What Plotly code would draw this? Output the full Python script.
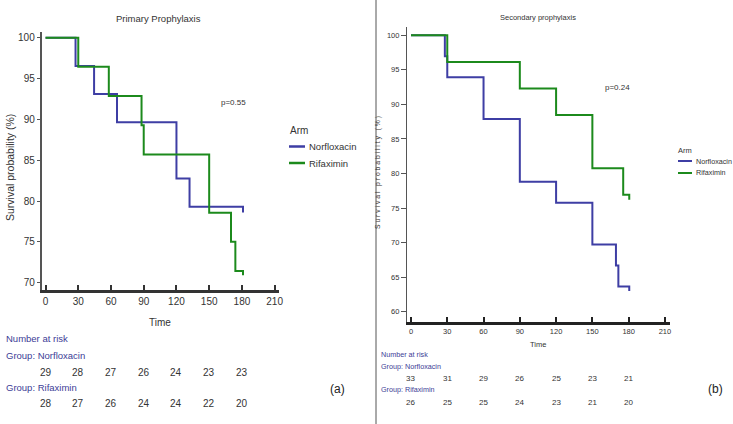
import plotly.graph_objects as go

W, H = 733, 424

# ---------------- data ----------------
# Panel (a) Primary prophylaxis
a_norf_t = [0, 27.5, 44.5, 65.5, 120, 132, 181, 181]
a_norf_s = [100, 96.55, 93.10, 89.66, 82.76, 79.31, 79.31, 78.6]
a_rifa_t = [0, 30, 58, 88, 90, 150, 170, 174, 181, 181]
a_rifa_s = [100, 96.43, 92.86, 89.29, 85.71, 78.57, 75.0, 71.43, 71.43, 70.9]
a_risk_times = [0, 30, 60, 90, 120, 150, 180]
a_risk_norf = [29, 28, 27, 26, 24, 23, 23]
a_risk_rifa = [28, 27, 26, 24, 24, 22, 20]
a_pvalue = "p=0.55"

# Panel (b) Secondary prophylaxis
b_norf_t = [0, 28, 30, 60, 90, 120, 150, 169.5, 171.5, 180.5, 180.5]
b_norf_s = [100, 96.97, 93.94, 87.88, 78.79, 75.76, 69.70, 66.67, 63.64, 63.64, 63.0]
b_rifa_t = [0, 30, 90, 120, 150, 175.5, 180.5, 180.5]
b_rifa_s = [100, 96.15, 92.31, 88.46, 80.77, 76.92, 76.92, 76.2]
b_risk_times = [0, 30, 60, 90, 120, 150, 180]
b_risk_norf = [33, 31, 29, 26, 25, 23, 21]
b_risk_rifa = [26, 25, 25, 24, 23, 21, 20]
b_pvalue = "p=0.24"

x_ticks = [0, 30, 60, 90, 120, 150, 180, 210]
a_y_ticks = [70, 75, 80, 85, 90, 95, 100]
b_y_ticks = [60, 65, 70, 75, 80, 85, 90, 95, 100]

BLUE = "#3e3ea4"
GREEN = "#1c8a1c"
TXT = "#333333"
TBLUE = "#3c3c96"
FONT = "Liberation Sans, Arial, sans-serif"

def px(x):
    return x / W

def py(y):
    return 1 - y / H

fig = go.Figure()

fig.add_trace(go.Scatter(x=a_norf_t, y=a_norf_s, mode="lines", line=dict(color=BLUE, width=2, shape="hv"),
                         xaxis="x", yaxis="y", showlegend=False))
fig.add_trace(go.Scatter(x=a_rifa_t, y=a_rifa_s, mode="lines", line=dict(color=GREEN, width=2, shape="hv"),
                         xaxis="x", yaxis="y", showlegend=False))
fig.add_trace(go.Scatter(x=b_norf_t, y=b_norf_s, mode="lines", line=dict(color=BLUE, width=2, shape="hv"),
                         xaxis="x2", yaxis="y2", showlegend=False))
fig.add_trace(go.Scatter(x=b_rifa_t, y=b_rifa_s, mode="lines", line=dict(color=GREEN, width=2, shape="hv"),
                         xaxis="x2", yaxis="y2", showlegend=False))

axis_common = dict(showgrid=False, zeroline=False, showline=True, automargin=False)

fig.update_layout(
    width=W, height=H,
    margin=dict(l=0, r=0, t=0, b=0, autoexpand=False),
    paper_bgcolor="white", plot_bgcolor="white",
    showlegend=False,
    font=dict(family=FONT, color=TXT),
    xaxis=dict(axis_common, domain=[px(41.5), px(279)], range=[-3.7, 214], tickvals=x_ticks,
               ticks="inside", ticklen=5, tickwidth=1.5, tickcolor="#333", linecolor="#333", linewidth=2.5,
               tickfont=dict(family=FONT, size=10, color=TXT), anchor="y"),
    yaxis=dict(axis_common, domain=[py(290), py(32)], range=[69.1, 100.7], tickvals=a_y_ticks,
               ticks="outside", ticklen=3, tickcolor="#555", linecolor="#555", linewidth=1.5,
               tickfont=dict(family=FONT, size=10, color=TXT), anchor="x"),
    xaxis2=dict(axis_common, domain=[px(407), px(670)], range=[-3.3, 214.2], tickvals=x_ticks,
                ticks="inside", ticklen=5, tickwidth=1.5, tickcolor="#222", linecolor="#222", linewidth=2.5,
                tickfont=dict(family=FONT, size=7.5, color=TXT), anchor="y2"),
    yaxis2=dict(axis_common, domain=[py(322), py(27)], range=[58.5, 101.2], tickvals=b_y_ticks,
                ticks="outside", ticklen=5, tickcolor="#555", linecolor="#555", linewidth=1.2,
                tickfont=dict(family=FONT, size=7.5, color=TXT), anchor="x2"),
)

ann = []
def text(x, y, s, size, color=TXT, xanchor="center", xref="paper", angle=0):
    ann.append(dict(x=x if xref != "paper" else px(x), y=py(y), xref=xref, yref="paper", text=s,
                    showarrow=False, xanchor=xanchor, yanchor="middle", textangle=angle,
                    font=dict(family=FONT, size=size, color=color)))

# Panel (a) texts
text(158, 19, "Primary Prophylaxis", 9.5)
text(10, 168, "Survival probability (%)", 10.5, angle=-90)
text(160, 322, "Time", 10)
text(233, 102, a_pvalue, 8)
text(288, 130, "Arm", 10, xanchor="left")
text(307, 146, "Norfloxacin", 9.5, xanchor="left")
text(307, 163, "Rifaximin", 9.5, xanchor="left")
text(4, 338, "Number at risk", 9.5, TBLUE, xanchor="left")
text(4, 355, "Group: Norfloxacin", 9.5, TBLUE, xanchor="left")
text(4, 387, "Group: Rifaximin", 9.5, TBLUE, xanchor="left")
for t, n in zip(a_risk_times, a_risk_norf):
    text(t, 372, str(n), 10, xref="x")
for t, n in zip(a_risk_times, a_risk_rifa):
    text(t, 403, str(n), 10, xref="x")
text(337, 389, "(a)", 12, "#222")

# Panel (b) texts
text(538, 17, "Secondary prophylaxis", 7.5)
text(378, 173, "S u r v i v a l   p r o b a b i l i t y   ( % )", 6.8, angle=-90)
text(538, 344, "Time", 7.5)
text(617, 87, b_pvalue, 8)
text(676, 150, "Arm", 7.5, xanchor="left")
text(694, 161, "Norfloxacin", 7.2, xanchor="left")
text(694, 173, "Rifaximin", 7.2, xanchor="left")
text(379, 354, "Number at risk", 7.2, TBLUE, xanchor="left")
text(379, 366, "Group: Norfloxacin", 7.2, TBLUE, xanchor="left")
text(379, 389, "Group: Rifaximin", 7.2, TBLUE, xanchor="left")
for t, n in zip(b_risk_times, b_risk_norf):
    text(t, 378, str(n), 8, xref="x2")
for t, n in zip(b_risk_times, b_risk_rifa):
    text(t, 402, str(n), 8, xref="x2")
text(715, 389, "(b)", 12, "#222")

fig.update_layout(annotations=ann)

shapes = [
    dict(type="line", xref="paper", yref="paper", x0=px(376), x1=px(376), y0=0, y1=1,
         line=dict(color="#555", width=1)),
    dict(type="line", xref="paper", yref="paper", x0=px(289), x1=px(305), y0=py(146.5), y1=py(146.5),
         line=dict(color=BLUE, width=2.5)),
    dict(type="line", xref="paper", yref="paper", x0=px(289), x1=px(305), y0=py(163), y1=py(163),
         line=dict(color=GREEN, width=2.5)),
    dict(type="line", xref="paper", yref="paper", x0=px(678), x1=px(692), y0=py(161), y1=py(161),
         line=dict(color=BLUE, width=2)),
    dict(type="line", xref="paper", yref="paper", x0=px(678), x1=px(692), y0=py(173), y1=py(173),
         line=dict(color=GREEN, width=2)),
]
fig.update_layout(shapes=shapes)

fig.write_html("out.html",
               config={"displayModeBar": False},
               post_script="document.body.style.margin='0';document.body.style.overflow='hidden';")
